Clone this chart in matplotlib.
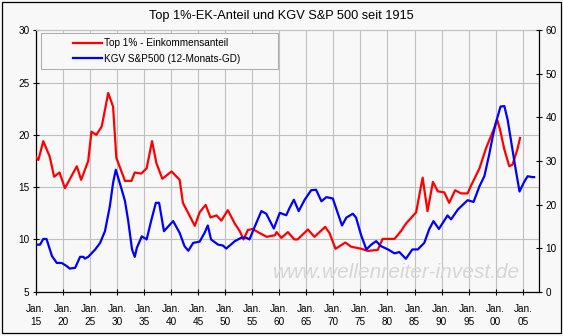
import matplotlib
matplotlib.use('Agg')
import matplotlib.pyplot as plt
from matplotlib.patches import Rectangle

plt.rcParams['font.family'] = ['Liberation Sans', 'DejaVu Sans']

# Top 1% Einkommensanteil (linke Achse, %)
top1_jahr = [1915.0, 1915.5, 1916.4, 1917.6, 1918.4, 1919.4, 1920.4, 1922.6, 1923.4, 1924.7,
             1925.3, 1926.2, 1927.2, 1928.4, 1929.3, 1929.9, 1931.5, 1932.7, 1933.3, 1934.5,
             1935.5, 1936.5, 1937.3, 1938.4, 1940.1, 1941.6, 1942.2, 1944.4, 1945.3, 1946.4,
             1947.3, 1948.4, 1949.3, 1950.5, 1951.8, 1952.7, 1953.4, 1954.2, 1955.1, 1956.4,
             1957.7, 1959.2, 1959.5, 1960.4, 1961.6, 1962.8, 1963.4, 1965.3, 1966.5, 1968.5,
             1969.3, 1970.4, 1972.2, 1973.3, 1975.2, 1976.4, 1978.2, 1979.1, 1981.3, 1982.5,
             1983.4, 1985.3, 1986.2, 1986.5, 1987.0, 1987.4, 1988.4, 1989.3, 1990.5, 1991.4,
             1992.5, 1993.6, 1994.8, 1995.4, 1997.0, 1998.2, 1999.1, 2000.3, 2000.8, 2001.6,
             2002.5, 2003.1, 2004.0, 2004.5]
top1_wert = [17.9, 17.6, 19.4, 17.9, 16.0, 16.4, 14.9, 17.0, 15.7, 17.5,
             20.3, 20.0, 20.8, 24.0, 22.7, 17.8, 15.6, 15.6, 16.4, 16.3,
             16.8, 19.4, 17.3, 15.8, 16.5, 15.7, 13.5, 11.3, 12.6, 13.3,
             12.1, 12.3, 11.8, 12.8, 11.5, 10.8, 10.0, 10.9, 11.0, 10.6,
             10.25, 10.4, 10.7, 10.15, 10.7, 10.0, 10.0, 10.95, 10.25, 11.2,
             10.6, 9.1, 9.7, 9.3, 9.1, 8.9, 9.0, 10.05, 10.05, 10.8,
             11.5, 12.6, 15.1, 15.9, 14.1, 12.7, 15.5, 14.6, 14.5, 13.5,
             14.7, 14.4, 14.4, 15.1, 16.8, 18.7, 19.85, 21.4, 20.5, 18.6,
             17.0, 17.15, 18.6, 19.7]

# KGV S&P 500, 12-Monats-Durchschnitt (rechte Achse)
kgv_jahr = [1915.0, 1915.8, 1916.4, 1917.0, 1918.0, 1918.9, 1919.8, 1920.7, 1921.3, 1922.3,
            1923.2, 1923.8, 1924.1, 1924.7, 1926.0, 1926.9, 1927.8, 1928.7, 1929.3, 1929.8,
            1930.9, 1931.5, 1932.1, 1932.8, 1933.3, 1933.7, 1934.6, 1935.5, 1936.4, 1937.2,
            1937.8, 1938.7, 1939.8, 1940.4, 1941.6, 1942.5, 1943.2, 1944.1, 1945.3, 1946.2,
            1946.8, 1947.4, 1948.7, 1949.6, 1950.2, 1951.8, 1953.0, 1953.9, 1954.5, 1955.5,
            1956.7, 1957.6, 1959.0, 1960.1, 1961.3, 1961.9, 1962.7, 1963.6, 1964.7, 1965.9,
            1966.8, 1967.8, 1968.7, 1969.9, 1970.8, 1971.6, 1972.4, 1973.6, 1974.2, 1975.1,
            1976.1, 1977.0, 1977.9, 1978.8, 1980.1, 1981.3, 1982.2, 1983.4, 1984.6, 1985.6,
            1986.8, 1987.7, 1988.5, 1989.5, 1991.1, 1991.75, 1993.0, 1994.8, 1995.9, 1997.0,
            1997.9, 1998.8, 1999.4, 2000.0, 2000.9, 2001.6, 2002.2, 2002.8, 2003.4, 2003.7,
            2004.4, 2005.3, 2005.9, 2006.8, 2007.1]
kgv_wert = [10.8, 10.8, 12.1, 12.1, 8.2, 6.6, 6.6, 5.9, 5.3, 5.5,
            8.0, 8.0, 7.6, 8.0, 9.7, 11.2, 13.9, 19.6, 25.0, 28.0,
            23.4, 20.8, 16.2, 9.7, 8.0, 10.1, 12.7, 12.0, 16.6, 20.4,
            20.4, 13.9, 15.4, 16.2, 13.5, 10.45, 9.4, 11.2, 11.5, 13.5,
            15.2, 12.0, 10.8, 10.6, 9.9, 11.6, 12.4, 12.4, 12.0, 15.0,
            18.5, 17.9, 14.5, 18.1, 17.55, 19.2, 21.1, 18.5, 21.1, 23.3,
            23.4, 20.75, 21.7, 21.4, 18.1, 15.2, 17.0, 17.9, 17.0, 13.1,
            9.7, 10.8, 11.6, 10.45, 9.7, 8.8, 9.1, 7.55, 9.7, 9.7,
            11.2, 14.3, 16.2, 14.4, 17.5, 16.6, 18.85, 21.0, 20.6, 24.2,
            26.5, 31.5, 35.3, 38.7, 42.5, 42.6, 39.5, 34.9, 30.3, 28.0,
            23.0, 25.3, 26.5, 26.3, 26.3]

x_ticks = list(range(1915, 2006, 5))
x_labels = ['Jan.\n%02d' % (j % 100) for j in x_ticks]

bg = '#f8f8f8'
grid_col = '#c0c0c0'
fs = 7.2

W, H = 563, 336
fig = plt.figure(figsize=(W / 100, H / 100), dpi=100, facecolor=bg)
ax = fig.add_axes([35.7 / W, 1 - 291.7 / H, (539 - 35.7) / W, (291.7 - 30.3) / H])
ax.set_facecolor(bg)
ax2 = ax.twinx()

ax.plot(top1_jahr, top1_wert, color='#ff0000', lw=1.6, zorder=3)
ax2.plot(kgv_jahr, kgv_wert, color='#0000ff', lw=1.6, zorder=3)

ax.set_xlim(1915, 2008)
ax.set_ylim(5, 30)
ax2.set_ylim(0, 60)

ax.set_xticks(x_ticks)
ax.set_xticklabels(x_labels, fontsize=fs, linespacing=1.45)
ax.set_yticks(range(5, 31, 5))
ax2.set_yticks(range(0, 61, 10))
ax.tick_params(axis='both', direction='inout', length=5, width=0.8, labelsize=fs, pad=2)
ax.tick_params(axis='x', pad=6)
ax2.tick_params(axis='y', direction='inout', length=5, width=0.8, labelsize=fs, pad=2)

ax.grid(True, color=grid_col, lw=0.8)
ax.set_axisbelow(True)

for s in ['left', 'bottom']:
    ax.spines[s].set_color('black')
    ax.spines[s].set_linewidth(0.9)
ax.spines['top'].set_color(grid_col)
ax.spines['top'].set_linewidth(0.8)
ax.spines['right'].set_visible(False)
for s in ['left', 'bottom', 'top']:
    ax2.spines[s].set_visible(False)
ax2.spines['right'].set_color('black')
ax2.spines['right'].set_linewidth(0.9)

ax.text(0.716, 0.075, 'www.wellenreiter-invest.de', transform=ax.transAxes,
        fontsize=15, style='italic', color='#d6d6d6', ha='center', va='center', zorder=1)

fig.text(0.5, 1 - 16 / H, 'Top 1%-EK-Anteil und KGV S&P 500 seit 1915',
         ha='center', va='center', fontsize=9.2)

# Legendenrahmen und Einträge
fig.add_artist(Rectangle((41 / W, 1 - 69 / H), 237 / W, 36 / H, transform=fig.transFigure,
                         facecolor=bg, edgecolor='#b0b0b0', lw=0.8, zorder=5))
h1, = ax.plot([], [], color='#ff0000', lw=1.6)
h2, = ax.plot([], [], color='#0000ff', lw=1.6)
fig.legend([h1, h2], ['Top 1% - Einkommensanteil', 'KGV S&P500 (12-Monats-GD)'],
           loc='upper left', bbox_to_anchor=(73 / W, 1 - 38 / H), frameon=False,
           fontsize=fs, handlelength=2.9, handletextpad=0.2, borderpad=0,
           borderaxespad=0, labelspacing=0.55).set_zorder(6)

# Rahmen um die ganze Grafik
fig.add_artist(Rectangle((2 / W, 1 - 333 / H), 559 / W, 331 / H, transform=fig.transFigure,
                         facecolor='none', edgecolor='black', lw=0.9, zorder=7))

fig.savefig('out.png', dpi=100, facecolor=bg)
